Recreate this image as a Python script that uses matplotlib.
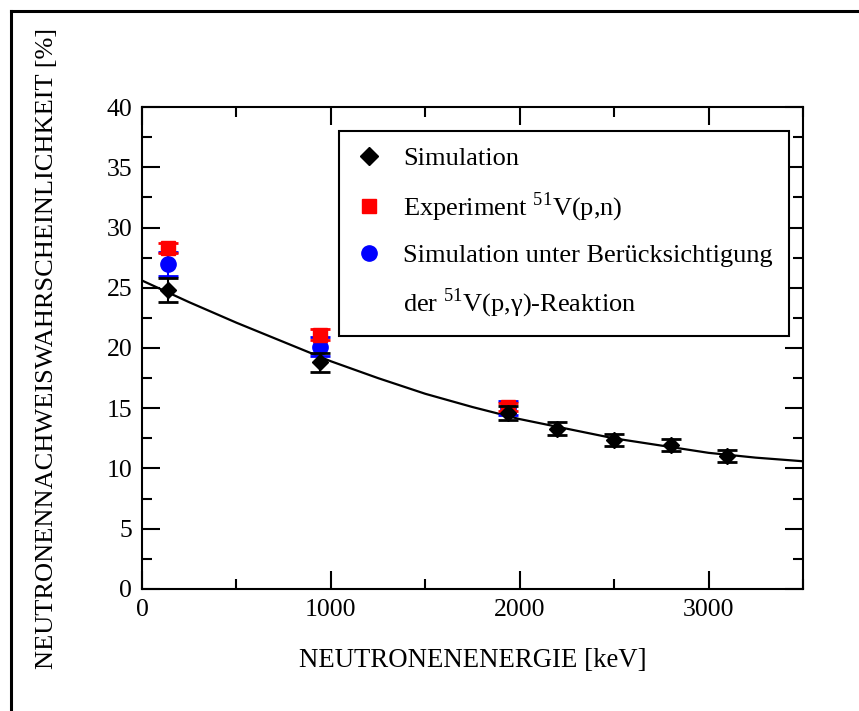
import matplotlib
matplotlib.use("Agg")
import matplotlib.pyplot as plt
from matplotlib.lines import Line2D
from matplotlib.ticker import MultipleLocator

plt.rcParams['font.family'] = ['Liberation Serif', 'DejaVu Serif']
plt.rcParams['mathtext.fontset'] = 'custom'
plt.rcParams['mathtext.rm'] = 'Liberation Serif'

# simulated detection probability
sim_e = [140, 940, 1940, 2200, 2500, 2800, 3100]
sim_p = [24.8, 18.8, 14.6, 13.3, 12.4, 11.95, 11.0]
sim_err = [1.0, 0.8, 0.6, 0.55, 0.5, 0.5, 0.5]

# measurement 51V(p,n)
exp_e = [140, 940, 1940]
exp_p = [28.3, 21.1, 15.1]
exp_err = [0.4, 0.45, 0.3]

# simulation incl. 51V(p,gamma)
gam_e = [140, 940, 1940]
gam_p = [27.0, 20.1, 15.0]
gam_err = [1.0, 0.8, 0.6]

# fitted curve through the simulation points
fit_e = [0, 250, 500, 750, 1000, 1250, 1500, 1750, 2000, 2250, 2500, 2750, 3000, 3250, 3500]
fit_p = [25.6, 23.8, 22.1, 20.5, 18.9, 17.5, 16.2, 15.1, 14.1, 13.3, 12.5, 11.9, 11.3, 10.9, 10.6]

fig = plt.figure(figsize=(8.59, 7.11), dpi=100)
ax = fig.add_axes([0.1653, 0.1716, 0.7695, 0.6779])

ax.plot(fit_e, fit_p, color='black', lw=1.6, zorder=2)

ax.errorbar(gam_e, gam_p, yerr=gam_err, fmt='o', color='blue', ms=11,
            capsize=7, capthick=2, elinewidth=1.5, zorder=3)
ax.errorbar(exp_e, exp_p, yerr=exp_err, fmt='s', color='red', ms=9.5,
            capsize=7, capthick=2, elinewidth=1.5, zorder=4)
ax.errorbar(sim_e, sim_p, yerr=sim_err, fmt='D', color='black', ms=8.5,
            capsize=7, capthick=2, elinewidth=1.5, zorder=5)

ax.set_xlim(0, 3500)
ax.set_ylim(0, 40)
ax.xaxis.set_major_locator(MultipleLocator(1000))
ax.xaxis.set_minor_locator(MultipleLocator(500))
ax.yaxis.set_major_locator(MultipleLocator(5))
ax.yaxis.set_minor_locator(MultipleLocator(2.5))
ax.tick_params(which='both', direction='in', top=True, right=True,
               width=1.5, labelsize=18.5, pad=7)
ax.tick_params(which='major', length=13)
ax.tick_params(which='minor', length=7)
for s in ax.spines.values():
    s.set_linewidth(1.5)

ax.set_xlabel('NEUTRONENENERGIE [keV]', fontsize=19.3, labelpad=20)
ax.set_ylabel('NEUTRONENNACHWEISWAHRSCHEINLICHKEIT [%]', fontsize=19, labelpad=35)

handles = [
    Line2D([], [], marker='D', color='black', ls='none', ms=9),
    Line2D([], [], marker='s', color='red', ls='none', ms=9.5),
    Line2D([], [], marker='o', color='blue', ls='none', ms=11),
    Line2D([], [], ls='none'),
]
labels = ['Simulation',
          'Experiment $^{51}$V(p,n)',
          'Simulation unter Berücksichtigung',
          'der $^{51}$V(p,γ)-Reaktion']
leg = ax.legend(handles, labels, loc='upper left', bbox_to_anchor=(0.2974, 0.950),
                fontsize=19, frameon=True, fancybox=False, edgecolor='black',
                framealpha=1, borderpad=0.6, labelspacing=0.75, handletextpad=0.75,
                handlelength=1.1, borderaxespad=0)
leg.get_frame().set_linewidth(1.5)

# page frame
fig.add_artist(Line2D([11, 859], [700, 700], transform=None, color='black', lw=2.2))
fig.add_artist(Line2D([11, 11], [0, 700], transform=None, color='black', lw=2.2))

fig.savefig('out.png', dpi=100)
